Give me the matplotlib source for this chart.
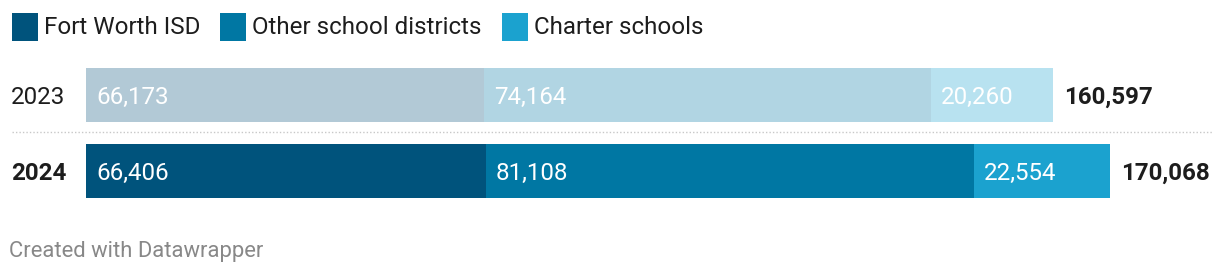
import matplotlib
matplotlib.use("Agg")
import matplotlib.pyplot as plt
from matplotlib.patches import Rectangle

plt.rcParams['font.family'] = ['Roboto', 'DejaVu Sans']

years = ["2023", "2024"]
series = ["Fort Worth ISD", "Other school districts", "Charter schools"]
fwisd = [66173, 66406]
other = [74164, 81108]
charter = [20260, 22554]
totals = [160597, 170068]

colors = ["#00537c", "#0077a3", "#1ba2cf"]
faded = ["#b2c9d6", "#b1d5e3", "#b8e2f0"]

W, H = 1220, 276
fig = plt.figure(figsize=(W / 100, H / 100), dpi=100)
ax = fig.add_axes([0, 0, 1, 1])

# map value 0 -> px 86, max total -> px 1110
px_per = 1024 / max(totals)
ax.set_xlim(-86 / px_per, (W - 86) / px_per)
ax.set_ylim(H, 0)
ax.axis("off")

fs = 17.4
dy = 2  # nudge text down a bit, va=center sits high
y_pos = [95, 171]
vals = [fwisd, other, charter]
for i, yr in enumerate(years):
    left = 0
    bold = (i == 1)
    for j in range(3):
        c = colors[j] if bold else faded[j]
        v = vals[j][i]
        ax.barh(y_pos[i], v, left=left, height=54, color=c, linewidth=0)
        ax.text(left + 10 / px_per, y_pos[i] + dy, f"{v:,}", color="white",
                fontsize=fs, va="center", ha="left")
        left += v
    ax.text(left + 11 / px_per, y_pos[i] + dy, f"{totals[i]:,}", color="#1d1d1d",
            fontsize=fs, fontweight="bold", va="center", ha="left")
    ax.text(11 / W, 1 - (y_pos[i] + dy) / H, yr, transform=fig.transFigure,
            color="#1d1d1d", fontsize=fs, va="center", ha="left",
            fontweight="bold" if bold else "normal")

# dotted separator
fig.add_artist(plt.Line2D([12 / W, 1212 / W], [1 - 132 / H, 1 - 132 / H],
                          color="#c8c8c8", linestyle=(0, (1, 1.5)), linewidth=1))

# legend
leg_x = [12, 220, 502]
for j, name in enumerate(series):
    fig.add_artist(Rectangle((leg_x[j] / W, 1 - 41 / H), 26 / W, 28 / H,
                             transform=fig.transFigure, color=colors[j], linewidth=0))
    fig.text((leg_x[j] + 32) / W, 1 - 28 / H, name, color="#1d1d1d",
             fontsize=fs, va="center", ha="left")

fig.text(9 / W, 1 - 252 / H, "Created with Datawrapper", color="#888888",
         fontsize=15.8, va="center", ha="left")

fig.savefig("out.png", dpi=100)
